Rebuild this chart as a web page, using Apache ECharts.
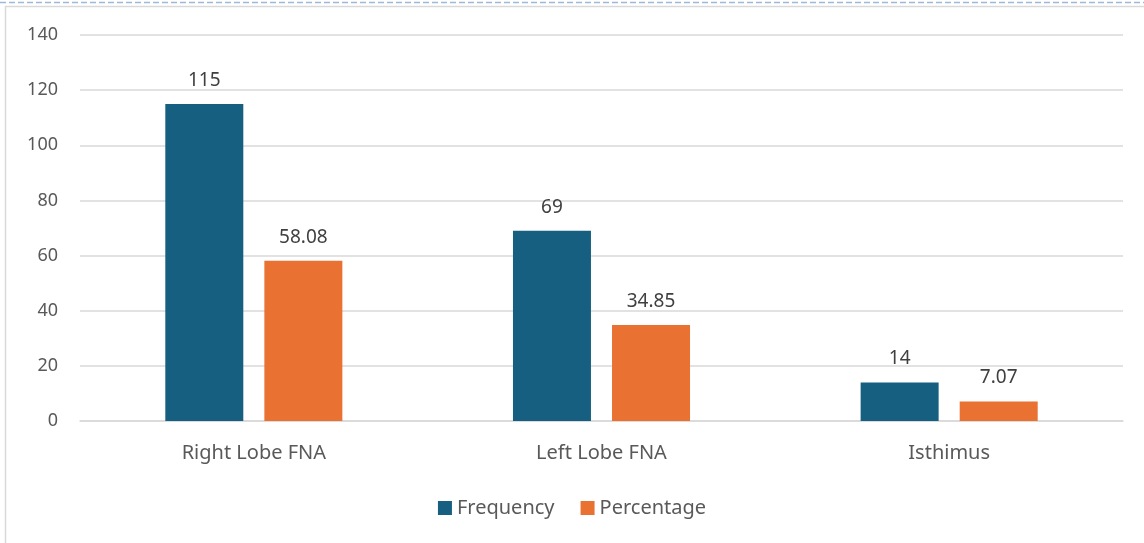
<!DOCTYPE html>
<html>
<head>
<meta charset="utf-8">
<style>
  html, body { margin: 0; padding: 0; background: #ffffff; }
  #chart { width: 1144px; height: 543px; }
</style>
<script src="https://cdn.jsdelivr.net/npm/echarts@6/dist/echarts.min.js"></script>
</head>
<body>
<div id="chart"></div>
<script>
// FNA site distribution
const categories = ['Right Lobe FNA', 'Left Lobe FNA', 'Isthimus'];
const frequency = [115, 69, 14];
const percentage = [58.08, 34.85, 7.07];
const seriesNames = ['Frequency', 'Percentage'];

const FONT = '"Noto Sans", "Open Sans", sans-serif';

const chart = echarts.init(document.getElementById('chart'), null, { renderer: 'canvas' });

const labelStyle = {
  show: true,
  position: 'top',
  distance: 14,
  color: '#404040',
  fontSize: 19,
  fontFamily: FONT
};

chart.setOption({
  animation: false,
  backgroundColor: '#ffffff',
  graphic: [
    // dashed rule along the very top
    { type: 'line', shape: { x1: 0, y1: 2.5, x2: 1144, y2: 2.5 },
      style: { stroke: '#9db8d8', lineWidth: 1.5, lineDash: [6, 3] } },
    // chart frame (left and top edges)
    { type: 'line', shape: { x1: 5.5, y1: 6, x2: 5.5, y2: 543 },
      style: { stroke: '#d9d9d9', lineWidth: 1.5 } },
    { type: 'line', shape: { x1: 5, y1: 6.5, x2: 1144, y2: 6.5 },
      style: { stroke: '#d9d9d9', lineWidth: 1.5 } }
  ],
  legend: {
    data: seriesNames,
    bottom: 20,
    left: 'center',
    itemWidth: 14,
    itemHeight: 14,
    itemGap: 26,
    icon: 'rect',
    textStyle: { color: '#595959', fontSize: 20, fontFamily: FONT }
  },
  grid: { left: 80, right: 21, top: 35, bottom: 122, containLabel: false },
  xAxis: {
    type: 'category',
    data: categories,
    axisLine: { show: true, lineStyle: { color: '#d9d9d9', width: 1.5 } },
    axisTick: { show: false },
    axisLabel: { color: '#595959', fontSize: 20, fontFamily: FONT, margin: 22 }
  },
  yAxis: {
    type: 'value',
    min: 0,
    max: 140,
    interval: 20,
    axisLine: { show: false },
    axisTick: { show: false },
    axisLabel: { color: '#595959', fontSize: 18, fontFamily: FONT, margin: 22 },
    splitLine: { lineStyle: { color: '#d9d9d9', width: 1.5 } }
  },
  series: [
    {
      name: seriesNames[0],
      type: 'bar',
      data: frequency,
      barWidth: 78,
      barGap: '27%',
      itemStyle: { color: '#175f80' },
      label: labelStyle
    },
    {
      name: seriesNames[1],
      type: 'bar',
      data: percentage,
      barWidth: 78,
      barGap: '27%',
      itemStyle: { color: '#e97132' },
      label: labelStyle
    }
  ]
});
</script>
</body>
</html>
